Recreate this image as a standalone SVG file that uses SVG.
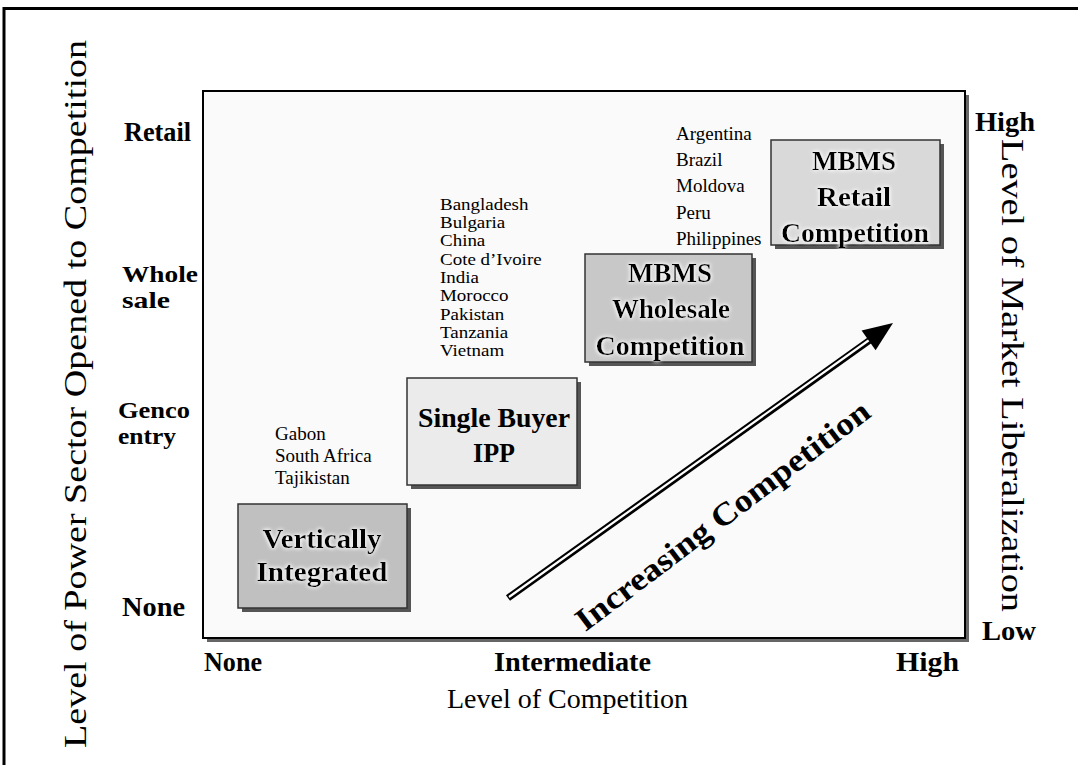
<svg xmlns="http://www.w3.org/2000/svg" width="1078" height="765" viewBox="0 0 1078 765">
<defs>
<style>
.b{font-family:"Liberation Serif","Times New Roman",serif;font-weight:bold;fill:#000}
.r{font-family:"Liberation Serif","Times New Roman",serif;fill:#000}
.box{stroke:#333;stroke-width:1.5}
.sh{fill:#555}
.ctry{font-family:"Liberation Serif","Times New Roman",serif;font-size:19px;fill:#000}
.ctrys{font-family:"Liberation Serif","Times New Roman",serif;font-size:16.5px;fill:#000}
.bt{font-family:"Liberation Serif","Times New Roman",serif;font-weight:bold;font-size:28px;fill:#000;text-anchor:middle}
</style>
<filter id="glow" x="-10%" y="-30%" width="120%" height="160%">
<feGaussianBlur in="SourceAlpha" stdDeviation="2" result="b"/>
<feFlood flood-color="#ffffff" flood-opacity="0.95"/>
<feComposite in2="b" operator="in" result="g"/>
<feMerge><feMergeNode in="g"/><feMergeNode in="g"/><feMergeNode in="SourceGraphic"/></feMerge>
</filter>
</defs>
<rect x="0" y="0" width="1078" height="765" fill="#fff"/>
<path d="M4,765 V8.5 H1078" fill="none" stroke="#000" stroke-width="3"/>

<g id="plot">
<rect x="207" y="95" width="762" height="547" fill="#666"/>
<rect x="203" y="91" width="762" height="547" fill="#fafafa" stroke="#000" stroke-width="2"/>
</g>

<g id="y-axis-left">
<text class="b" x="124" y="141" font-size="27" textLength="67" lengthAdjust="spacingAndGlyphs">Retail</text>
<text class="b" x="122" y="282" font-size="24" textLength="76" lengthAdjust="spacingAndGlyphs">Whole</text>
<text class="b" x="122" y="308" font-size="24" textLength="48" lengthAdjust="spacingAndGlyphs">sale</text>
<text class="b" x="118" y="418" font-size="24" textLength="72" lengthAdjust="spacingAndGlyphs">Genco</text>
<text class="b" x="118" y="444" font-size="24" textLength="58" lengthAdjust="spacingAndGlyphs">entry</text>
<text class="b" x="122" y="616" font-size="27" textLength="63" lengthAdjust="spacingAndGlyphs">None</text>
<text class="r" transform="translate(86,748) rotate(-90)" font-size="32" textLength="708" lengthAdjust="spacingAndGlyphs">Level of Power Sector Opened to Competition</text>
</g>

<g id="x-axis">
<text class="b" x="204" y="671" font-size="27" textLength="58" lengthAdjust="spacingAndGlyphs">None</text>
<text class="b" x="494" y="671" font-size="27" textLength="157" lengthAdjust="spacingAndGlyphs">Intermediate</text>
<text class="b" x="896" y="671" font-size="27" textLength="63" lengthAdjust="spacingAndGlyphs">High</text>
<text class="r" x="447" y="708" font-size="28" textLength="241" lengthAdjust="spacingAndGlyphs">Level of Competition</text>
</g>

<g id="y-axis-right">
<text class="b" x="975" y="131" font-size="27" textLength="60" lengthAdjust="spacingAndGlyphs">High</text>
<text class="b" x="982" y="640" font-size="27" textLength="54" lengthAdjust="spacingAndGlyphs">Low</text>
<text class="r" transform="translate(1002,139) rotate(90)" font-size="32" textLength="473" lengthAdjust="spacingAndGlyphs">Level of Market Liberalization</text>
</g>

<g id="countries-vi">
<text class="ctry" x="275" y="440">Gabon</text>
<text class="ctry" x="275" y="462">South Africa</text>
<text class="ctry" x="275" y="484">Tajikistan</text>
</g>

<g id="countries-sb" transform="translate(440,0) scale(1.15,1)">
<text class="ctrys" x="0" y="210">Bangladesh</text>
<text class="ctrys" x="0" y="228">Bulgaria</text>
<text class="ctrys" x="0" y="246">China</text>
<text class="ctrys" x="0" y="265">Cote d’Ivoire</text>
<text class="ctrys" x="0" y="283">India</text>
<text class="ctrys" x="0" y="301">Morocco</text>
<text class="ctrys" x="0" y="320">Pakistan</text>
<text class="ctrys" x="0" y="338">Tanzania</text>
<text class="ctrys" x="0" y="356">Vietnam</text>
</g>

<g id="countries-mbms">
<text class="ctry" x="676" y="140">Argentina</text>
<text class="ctry" x="676" y="166">Brazil</text>
<text class="ctry" x="676" y="192">Moldova</text>
<text class="ctry" x="676" y="219">Peru</text>
<text class="ctry" x="676" y="245">Philippines</text>
</g>

<g id="node-vertically-integrated">
<rect class="sh" x="242" y="508" width="169" height="104"/>
<rect class="box" x="238" y="504" width="169" height="104" fill="#c0c0c0"/>
<g filter="url(#glow)">
<text class="bt" x="322" y="548" textLength="119" lengthAdjust="spacingAndGlyphs">Vertically</text>
<text class="bt" x="322" y="581" textLength="131" lengthAdjust="spacingAndGlyphs">Integrated</text>
</g>
</g>

<g id="node-single-buyer">
<rect class="sh" x="411" y="382" width="170" height="107"/>
<rect class="box" x="407" y="378" width="170" height="107" fill="#ebebeb"/>
<text class="bt" x="494" y="427" textLength="152" lengthAdjust="spacingAndGlyphs">Single Buyer</text>
<text class="bt" x="494" y="462" textLength="42" lengthAdjust="spacingAndGlyphs">IPP</text>
</g>

<g id="node-mbms-wholesale">
<rect class="sh" x="589" y="258" width="167" height="108"/>
<rect class="box" x="585" y="254" width="167" height="108" fill="#c8c8c8"/>
<g filter="url(#glow)">
<text class="bt" x="670" y="282" textLength="84" lengthAdjust="spacingAndGlyphs">MBMS</text>
<text class="bt" x="671" y="318" textLength="118" lengthAdjust="spacingAndGlyphs">Wholesale</text>
<text class="bt" x="670" y="355" textLength="149" lengthAdjust="spacingAndGlyphs">Competition</text>
</g>
</g>

<g id="node-mbms-retail">
<rect class="sh" x="775" y="144" width="169" height="105"/>
<rect class="box" x="771" y="140" width="169" height="105" fill="#d9d9d9"/>
<g filter="url(#glow)">
<text class="bt" x="854" y="170" textLength="84" lengthAdjust="spacingAndGlyphs">MBMS</text>
<text class="bt" x="854" y="206" textLength="74" lengthAdjust="spacingAndGlyphs">Retail</text>
<text class="bt" x="855" y="242" textLength="148" lengthAdjust="spacingAndGlyphs">Competition</text>
</g>
</g>

<g id="connectors">
<line x1="508" y1="598" x2="870" y2="340" stroke="#000" stroke-width="7"/>
<line x1="509" y1="597" x2="872" y2="338" stroke="#fff" stroke-width="2.2"/>
<polygon points="893,323 875.6,350.2 861.6,330.6" fill="#000"/>
<text class="b" transform="translate(729,524) rotate(-37)" font-size="32" text-anchor="middle" textLength="360" lengthAdjust="spacingAndGlyphs">Increasing Competition</text>
</g>
</svg>
